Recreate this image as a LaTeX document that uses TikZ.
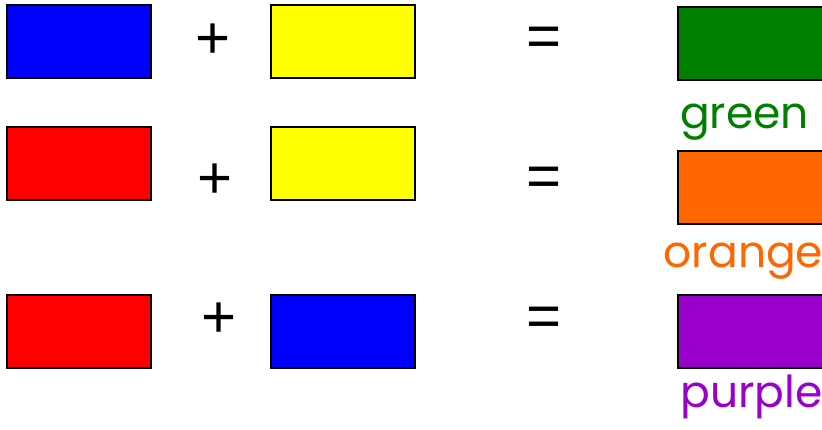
\documentclass[tikz,border=0pt]{standalone}
\usepackage{fontspec}
\setmainfont{Poppins}
\newfontfamily\symfont{Liberation Sans}
\definecolor{cblue}{HTML}{0000FF}
\definecolor{cyellow}{HTML}{FFFF00}
\definecolor{cred}{HTML}{FF0000}
\definecolor{cgreen}{HTML}{008000}
\definecolor{corange}{HTML}{FF6600}
\definecolor{cpurple}{HTML}{9900CC}
\tikzset{
  swatch/.style={draw=black, line width=2pt, minimum width=144pt, minimum height=73pt, inner sep=0pt, fill=#1},
  cutswatch/.style={swatch=#1, minimum width=164pt},
  opsym/.style={inner sep=0pt, font=\symfont\fontsize{60}{60}\selectfont},
  cname/.style={inner sep=0pt, anchor=base, text=#1, font=\fontsize{44}{44}\selectfont}
}
\begin{document}
\begin{tikzpicture}[x=1pt,y=-1pt]
\useasboundingbox (0,0) rectangle (822,429);
\clip (0,0) rectangle (822,429);
% row 1
\node[swatch=cblue] (a1) at (79,41.5) {};
\node[opsym] (p1) at (213,41.5) {+};
\node[swatch=cyellow] (b1) at (342.5,41.5) {};
\node[opsym] (e1) at (544.5,42) {=};
\node[cutswatch=cgreen] (r1) at (760,43.5) {};
\node[cname=cgreen] (l1) at (744.5,128) {green};
% row 2
\node[swatch=cred] (a2) at (79,163.5) {};
\node[opsym] (p2) at (215,181) {+};
\node[swatch=cyellow] (b2) at (342.5,163.5) {};
\node[opsym] (e2) at (544.5,182) {=};
\node[cutswatch=corange] (r2) at (760,187.5) {};
\node[cname=corange] (l2) at (743.5,267) {orange};
% row 3
\node[swatch=cred] (a3) at (79,331.5) {};
\node[opsym] (p3) at (219,320.5) {+};
\node[swatch=cblue] (b3) at (342.5,331.5) {};
\node[opsym] (e3) at (544.5,322) {=};
\node[cutswatch=cpurple] (r3) at (760,331.5) {};
\node[cname=cpurple] (l3) at (751.5,407) {purple};
\end{tikzpicture}
\end{document}
